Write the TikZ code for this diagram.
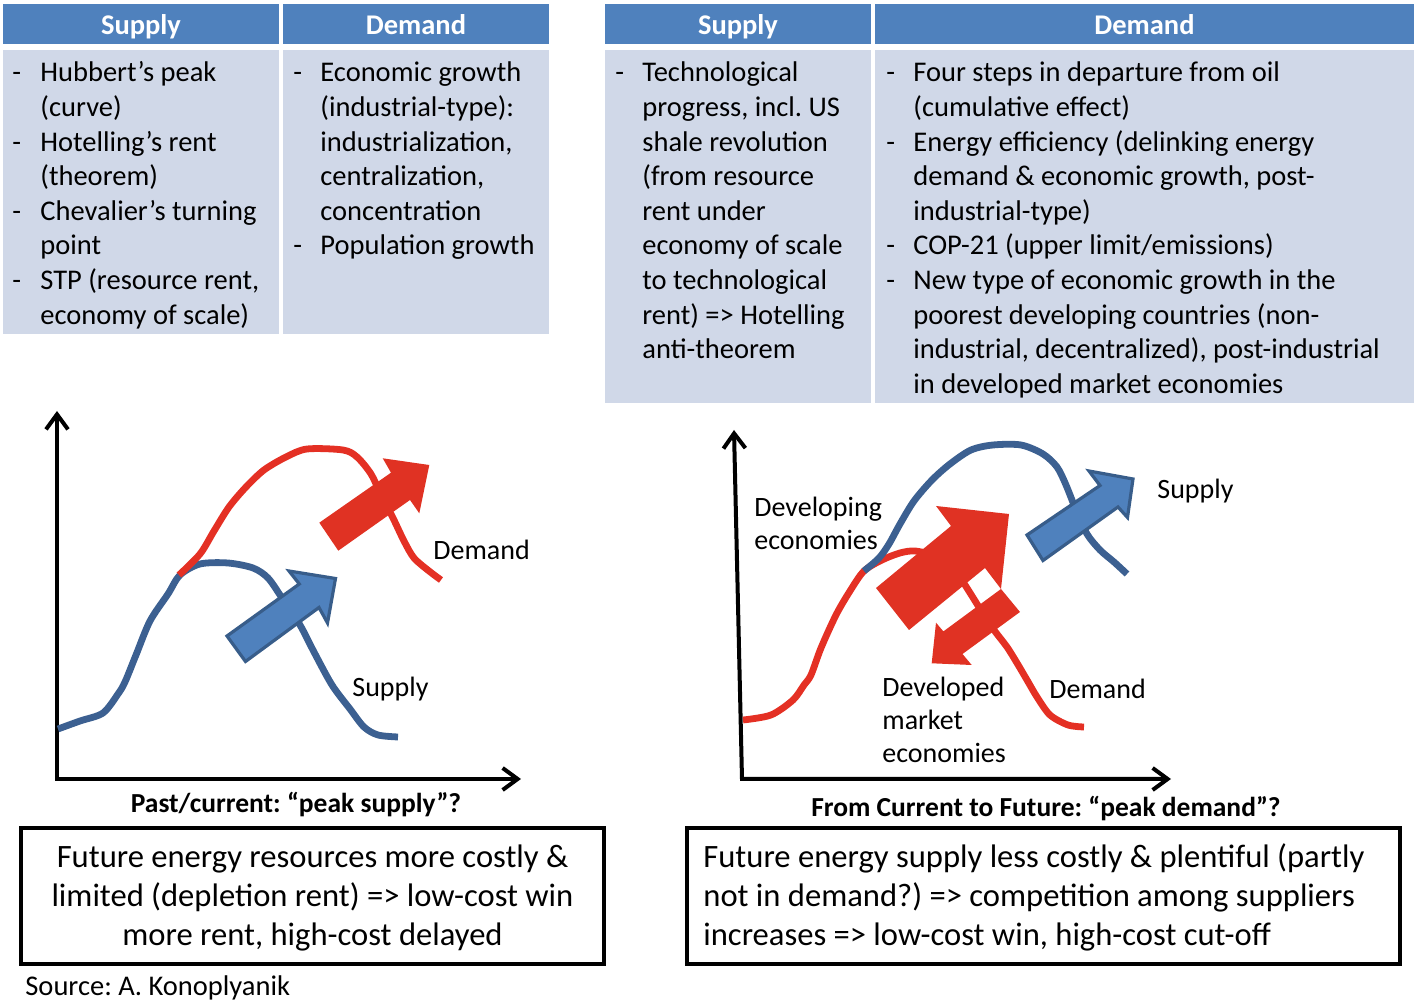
\documentclass[tikz,border=0pt]{standalone}
\usepackage{fontspec}
\setmainfont{Carlito}
\usetikzlibrary{arrows.meta}
\definecolor{hdr}{RGB}{79,129,189}
\definecolor{cellbg}{RGB}{208,216,232}
\definecolor{cblue}{RGB}{60,96,145}
\definecolor{cred}{RGB}{228,48,36}
\definecolor{ared}{RGB}{224,50,35}
\definecolor{ablue}{RGB}{79,129,189}
\definecolor{ablueline}{RGB}{56,93,138}
\newcommand\myline[1]{\hbox{#1}}
\frenchspacing
\begin{document}
\begin{tikzpicture}[x=0.5pt,y=-0.5pt,
  hdrtxt/.style={font=\fontsize{14.25}{17.3}\selectfont\bfseries, text=white, anchor=base, inner sep=0pt},
  bodytxt/.style={font=\fontsize{14.25}{17.3}\selectfont, anchor=base west, inner sep=0pt},
  charttxt/.style={font=\fontsize{14}{16.5}\selectfont, anchor=base west, inner sep=0pt},
  axlabel/.style={font=\fontsize{13.75}{16}\selectfont\bfseries, anchor=base, inner sep=0pt},
  boxtxt/.style={font=\fontsize{16.3}{19.4}\selectfont, inner sep=0pt},
  axisline/.style={line width=2pt, {Straight Barb[length=7.5pt,width=11pt]}-{Straight Barb[length=7.5pt,width=11pt]}},
  curveblue/.style={cblue, line width=3.4pt, line join=round},
  curvered/.style={cred, line width=3.4pt, line join=round},
  redarrow/.style={fill=ared},
  bluearrow/.style={fill=ablue, draw=ablueline, line width=1.6pt, line join=miter},
  summarybox/.style={draw=black, line width=2.3pt}
]
\useasboundingbox (0,0) rectangle (1421,1004);

% ---------- tables ----------
\fill[hdr] (3,4) rectangle (279,44);
\fill[hdr] (283,4) rectangle (549,44);
\fill[hdr] (605,4) rectangle (871,44);
\fill[hdr] (875,4) rectangle (1414,44);
\fill[cellbg] (3,50) rectangle (279,334);
\fill[cellbg] (283,50) rectangle (549,334);
\fill[cellbg] (605,50) rectangle (871,403);
\fill[cellbg] (875,50) rectangle (1414,403);

\node[hdrtxt] (h1) at (141,35) {Supply};
\node[hdrtxt] (h2) at (416,35) {Demand};
\node[hdrtxt] (h3) at (738,35) {Supply};
\node[hdrtxt] (h4) at (1144.5,35) {Demand};

% left supply
\node[bodytxt] (d11) at (12,82) {-};
\node[bodytxt] (t11) at (40,82) {\vtop{\myline{Hubbert’s peak}\myline{(curve)}}};
\node[bodytxt] (d12) at (12,151.2) {-};
\node[bodytxt] (t12) at (40,151.2) {\vtop{\myline{Hotelling’s rent}\myline{(theorem)}}};
\node[bodytxt] (d13) at (12,220.4) {-};
\node[bodytxt] (t13) at (40,220.4) {\vtop{\myline{Chevalier’s turning}\myline{point}}};
\node[bodytxt] (d14) at (12,289.6) {-};
\node[bodytxt] (t14) at (40,289.6) {\vtop{\myline{STP (resource rent,}\myline{economy of scale)}}};
% left demand
\node[bodytxt] (d21) at (293,82) {-};
\node[bodytxt] (t21) at (320,82) {\vtop{\myline{Economic growth}\myline{(industrial-type):}\myline{industrialization,}\myline{centralization,}\myline{concentration}}};
\node[bodytxt] (d22) at (293,255) {-};
\node[bodytxt] (t22) at (320,255) {Population growth};
% right supply
\node[bodytxt] (d31) at (615,82) {-};
\node[bodytxt] (t31) at (642,82) {\vtop{\myline{Technological}\myline{progress, incl. US}\myline{shale revolution}\myline{(from resource}\myline{rent under}\myline{economy of scale}\myline{to technological}\myline{rent) => Hotelling}\myline{anti-theorem}}};
% right demand
\node[bodytxt] (d41) at (886,82) {-};
\node[bodytxt] (t41) at (913,82) {\vtop{\myline{Four steps in departure from oil}\myline{(cumulative effect)}}};
\node[bodytxt] (d42) at (886,151.2) {-};
\node[bodytxt] (t42) at (913,151.2) {\vtop{\myline{Energy efficiency (delinking energy}\myline{demand \& economic growth, post-}\myline{industrial-type)}}};
\node[bodytxt] (d43) at (886,255) {-};
\node[bodytxt] (t43) at (913,255) {COP-21 (upper limit/emissions)};
\node[bodytxt] (d44) at (886,289.6) {-};
\node[bodytxt] (t44) at (913,289.6) {\vtop{\myline{New type of economic growth in the}\myline{poorest developing countries (non-}\myline{industrial, decentralized), post-industrial}\myline{in developed market economies}}};

% ---------- left chart ----------
\coordinate (la) at (57,411);
\coordinate (lo) at (57,779);
\coordinate (lb) at (521,779);
\draw[axisline] (la) -- (lo) -- (lb);

\draw[curveblue] plot[smooth, tension=0.5] coordinates {(58,729) (80,721) (103,713) (118,694) (125,682) (136,655) (150,621) (168,594) (180,575) (200,564) (228,563) (253,568) (268,578) (282,598) (300,625) (314,652) (332,685) (350,709) (364,727) (378,735) (398,737)};
\draw[curvered] plot[smooth, tension=0.5] coordinates {(179,575) (200,554) (214,531) (229,507) (246,487) (264,470) (286,457) (307,449) (343,450) (357,457) (371,474) (382,497) (393,518) (404,541) (414,558) (429,571) (441,580)};

\fill[redarrow] (319.3,522.7) -- (391,472.7) -- (382.7,458.3) -- (429.3,465) -- (419.3,513.3) -- (410,500) -- (338.3,550.7) -- cycle;
\filldraw[bluearrow] (227,636) -- (299.3,584) -- (289,571) -- (335.5,578.5) -- (327.5,623) -- (319,607.5) -- (245.5,661.5) -- cycle;

\node[charttxt] (ldem) at (433,560) {Demand};
\node[charttxt] (lsup) at (352,697) {Supply};
\node[axlabel] (lax) at (296,813) {Past/current: “peak supply”?};

% ---------- right chart ----------
\coordinate (ra) at (734,430);
\coordinate (ro) at (742,779);
\coordinate (rb) at (1171,779);
\draw[axisline] (ra) -- (ro) -- (rb);

\draw[curvered] plot[smooth, tension=0.5] coordinates {(743,720) (771,715) (793,700) (804,685) (811,675) (821,648) (836,615) (850,591) (864,571) (882,560) (900,553) (915,551) (935,556) (952,568) (963,582) (972,596) (982,612) (994,630) (1007,647) (1017,663) (1027,680) (1037,697) (1050,715) (1068,725) (1084,727)};
\draw[curveblue] plot[smooth, tension=0.5] coordinates {(864,571) (879,558) (889,544) (900,524) (914,501) (932,480) (950,464) (971,450) (993,445) (1021,445) (1043,454) (1057,467) (1066,485) (1076,510) (1087,534) (1100,550) (1114,562) (1127,574)};

\fill[redarrow] (876,588) -- (951,526) -- (936,506) -- (1009,514) -- (1001,589) -- (985,568) -- (909,630) -- cycle;
\fill[redarrow] (1001,589) -- (1020,612) -- (962.5,654) -- (971.7,665) -- (931.7,663.3) -- (936,622.7) -- (943.4,631.4) -- cycle;
\filldraw[bluearrow] (1027,535) -- (1100,485.5) -- (1089,471) -- (1133,479) -- (1127.5,517.5) -- (1118,507) -- (1043,560.5) -- cycle;

\node[charttxt] (rdev) at (754,517) {\vtop{\myline{Developing}\myline{economies}}};
\node[charttxt] (rsup) at (1157,499) {Supply};
\node[charttxt] (rdvd) at (882,697) {\vtop{\myline{Developed}\myline{market}\myline{economies}}};
\node[charttxt] (rdem) at (1049,699) {Demand};
\node[axlabel] (rax) at (1046,817) {From Current to Future: “peak demand”?};

% ---------- summary boxes ----------
\draw[summarybox] (21,828) rectangle (604,964);
\draw[summarybox] (687,828) rectangle (1400,964);
\node[boxtxt, anchor=base] (b11) at (312.5,868) {Future energy resources more costly \&};
\node[boxtxt, anchor=base] (b12) at (312.5,907) {limited (depletion rent) => low-cost win};
\node[boxtxt, anchor=base] (b13) at (312.5,946) {more rent, high-cost delayed};
\node[boxtxt, anchor=base west] (b21) at (703,868) {Future energy supply less costly \& plentiful (partly};
\node[boxtxt, anchor=base west] (b22) at (703,907) {not in demand?) => competition among suppliers};
\node[boxtxt, anchor=base west] (b23) at (703,946) {increases => low-cost win, high-cost cut-off};

\node[bodytxt] (src) at (25,996) {Source: A. Konoplyanik};
\end{tikzpicture}
\end{document}
